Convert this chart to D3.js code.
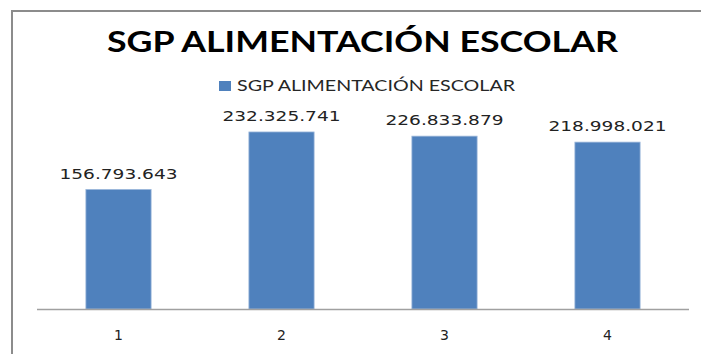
<!DOCTYPE html>
<html>
<head>
<meta charset="utf-8">
<script src="https://cdn.jsdelivr.net/npm/d3@7"></script>
<style>
  html, body { margin: 0; padding: 0; background: #fff; }
  svg { display: block; }
</style>
</head>
<body>
<svg id="chart" width="701" height="354"></svg>
<script>
// Chart data
const chartTitle = "SGP ALIMENTACIÓN ESCOLAR";
const seriesName = "SGP ALIMENTACIÓN ESCOLAR";
const categories = ["1", "2", "3", "4"];
const values = [156793643, 232325741, 226833879, 218998021];
const valueLabels = ["156.793.643", "232.325.741", "226.833.879", "218.998.021"];

const svg = d3.select("#chart");

// Outer frame of the chart area (right and bottom run past the canvas)
svg.append("rect")
  .attr("x", 12).attr("y", 11)
  .attr("width", 760).attr("height", 400)
  .attr("fill", "#fff")
  .attr("stroke", "#8c8c8c")
  .attr("stroke-width", 2);

// Title
svg.append("text")
  .attr("x", 107).attr("y", 52)
  .attr("textLength", 511).attr("lengthAdjust", "spacingAndGlyphs")
  .style("font-family", "Lato, 'Open Sans', sans-serif")
  .style("font-weight", "bold")
  .style("font-size", "28px")
  .attr("fill", "#000")
  .text(chartTitle);

// Legend
svg.append("rect")
  .attr("x", 219).attr("y", 81)
  .attr("width", 12).attr("height", 10)
  .attr("fill", "#4f81bd");
svg.append("text")
  .attr("x", 237).attr("y", 91)
  .attr("textLength", 278).attr("lengthAdjust", "spacingAndGlyphs")
  .style("font-family", "Lato, 'Open Sans', sans-serif")
  .style("font-size", "15.5px")
  .attr("fill", "#262626")
  .text(seriesName);

// Scales
const x = d3.scaleBand()
  .domain(categories)
  .range([37, 689])
  .paddingInner(0.6)
  .paddingOuter(0.3);

const y = d3.scaleLinear()
  .domain([0, 250000000])
  .range([309, 118.5]);

// Bars
svg.append("g").selectAll("rect")
  .data(values)
  .join("rect")
  .attr("x", (d, i) => x(categories[i]))
  .attr("y", d => y(d))
  .attr("width", x.bandwidth())
  .attr("height", d => y(0) - y(d))
  .attr("fill", "#4f81bd")
  .attr("stroke", "#9ab6da")
  .attr("stroke-width", 0.8);

// Value labels above bars
svg.append("g").selectAll("text")
  .data(values)
  .join("text")
  .attr("x", (d, i) => x(categories[i]) + x.bandwidth() / 2 - 59)
  .attr("y", d => y(d) - 11)
  .attr("textLength", 118).attr("lengthAdjust", "spacingAndGlyphs")
  .style("font-family", "'DejaVu Sans', Verdana, sans-serif")
  .style("font-size", "14.5px")
  .attr("fill", "#222")
  .text((d, i) => valueLabels[i]);

// Category axis
const xAxis = svg.append("g")
  .attr("transform", `translate(0,${y(0)})`)
  .call(d3.axisBottom(x).tickSize(0).tickPadding(21));
xAxis.select(".domain")
  .attr("d", `M37,0.5H689`)
  .attr("stroke", "#a0a0a0")
  .attr("stroke-width", 1.5);
xAxis.selectAll(".tick text")
  .style("font-family", "'DejaVu Sans', Verdana, sans-serif")
  .style("font-size", "14px")
  .attr("fill", "#222");
</script>
</body>
</html>
